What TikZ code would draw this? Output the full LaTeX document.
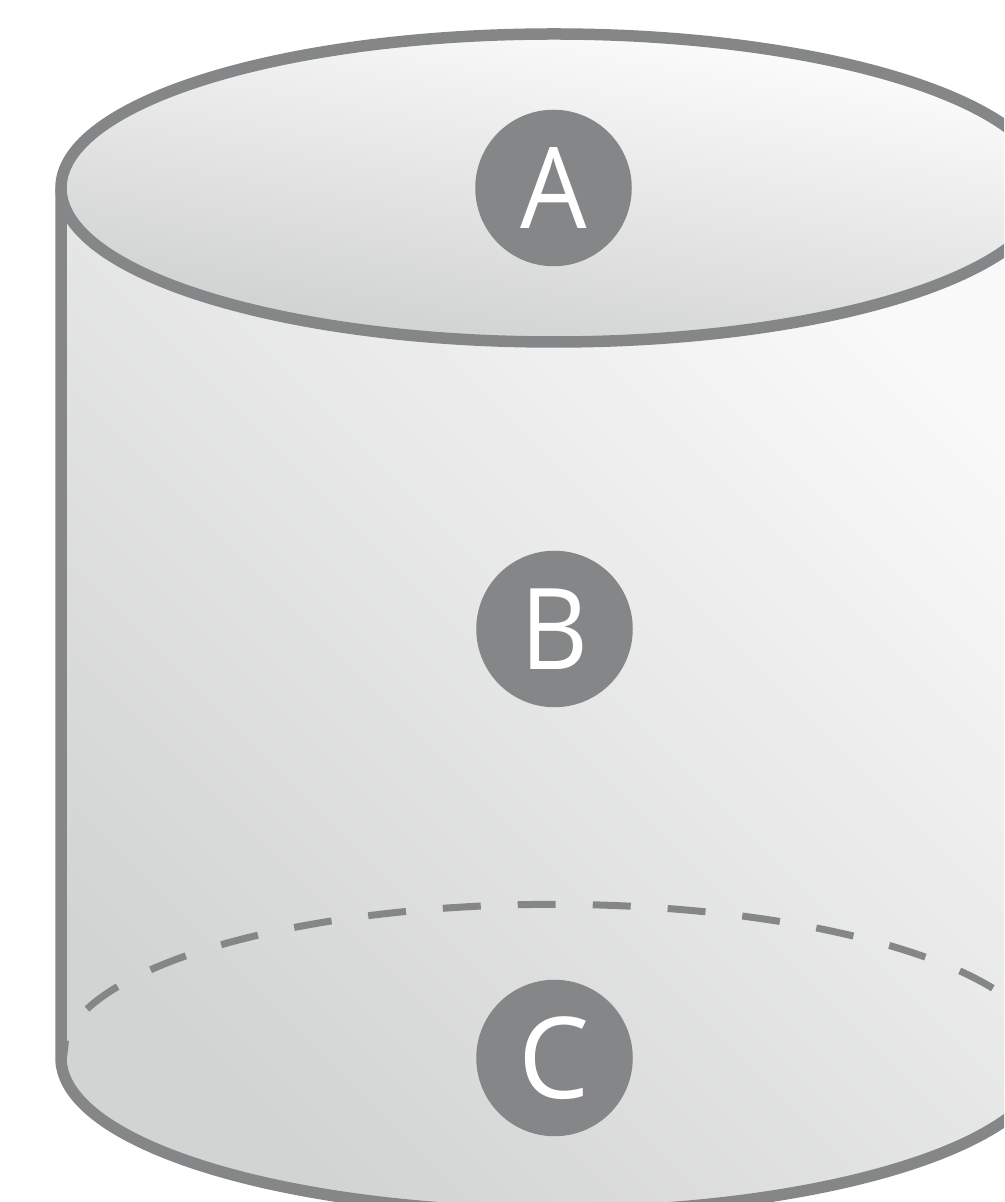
\documentclass[tikz,border=0pt]{standalone}
\usepackage{fontspec}
\setmainfont{Open Sans}
\definecolor{edgegray}{HTML}{858687}
\definecolor{bodydark}{HTML}{D2D3D3}
\definecolor{bodylight}{HTML}{F9F9F9}
\definecolor{lidlight}{HTML}{FFFFFF}
\definecolor{liddark}{HTML}{CDCECE}
\tikzset{
  edgeline/.style={draw=edgegray,line width=11.5pt},
  hiddenline/.style={draw=edgegray,line width=7pt,dash pattern=on 38pt off 37pt},
  badge/.style={circle,fill=edgegray,minimum size=156.5pt,inner sep=0pt,text=white,font=\fontsize{113}{113}\selectfont},
}
\begin{document}
\begin{tikzpicture}[x=1pt,y=1pt]
\useasboundingbox (0,0) rectangle (1004,1202);
\clip (0,0) rectangle (1004,1202);
% cylinder body
\path[left color=bodydark,right color=bodylight,shading angle=135]
  (61,1014) -- (61,144) arc[start angle=180,end angle=360,x radius=493pt,y radius=154pt] -- (1047,1014) -- cycle;
\draw[edgeline] (61,1014) -- (61,144) arc[start angle=180,end angle=360,x radius=493pt,y radius=154pt];
\fill[edgegray] (65,162) -- (69,161) -- (67,144) -- (65,144) -- cycle;
% lid
\path[bottom color=liddark,top color=lidlight,shading angle=-10]
  (554,1014) ellipse[x radius=493pt,y radius=154pt];
\draw[edgeline] (554,1014) ellipse[x radius=493pt,y radius=154pt];
% hidden edge of base
\draw[hiddenline] (87,193) arc[start angle=161.3,end angle=27.1,x radius=493pt,y radius=154pt];
\node[badge] (a) at (553.5,1014) {\scalebox{.93}[1]{A}};
\node[badge] (b) at (554.5,573) {\scalebox{.93}[1]{B}};
\node[badge] (c) at (554.5,144) {C};
\end{tikzpicture}
\end{document}
